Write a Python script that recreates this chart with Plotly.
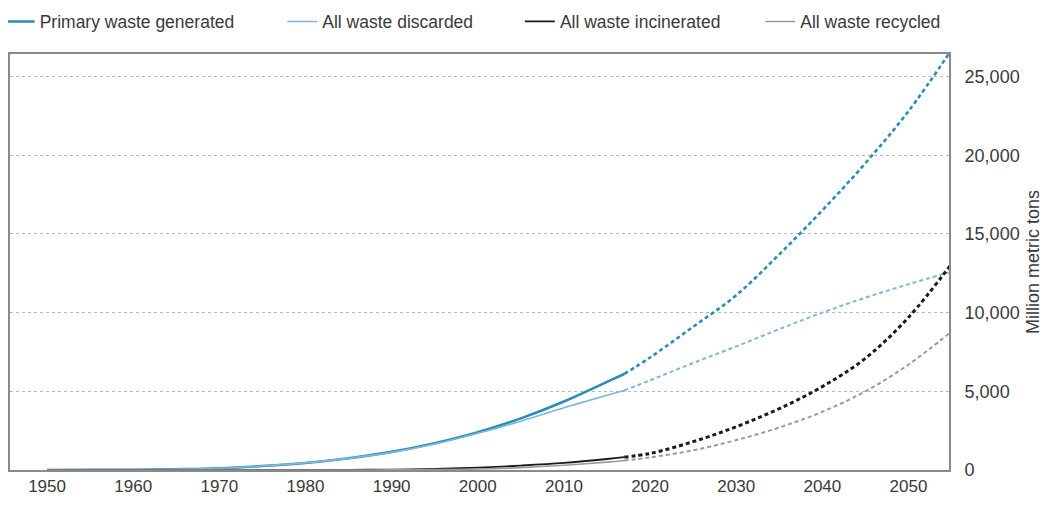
import plotly.graph_objects as go

# cumulative plastic waste, million metric tons
hist_years = [1950, 1955, 1960, 1965, 1970, 1975, 1980, 1985, 1990, 1995, 2000, 2005, 2010, 2015, 2017]
proj_years = [2017, 2020, 2025, 2030, 2035, 2040, 2045, 2050, 2055]

primary_hist = [0, 5, 20, 50, 110, 250, 450, 750, 1150, 1700, 2400, 3280, 4350, 5600, 6100]
primary_proj = [6100, 7150, 9100, 11100, 13700, 16500, 19500, 22800, 26700]

discarded_hist = [0, 5, 20, 50, 110, 250, 450, 740, 1120, 1650, 2330, 3100, 3950, 4750, 5050]
discarded_proj = [5050, 5700, 6800, 7850, 8950, 10000, 10950, 11800, 12600]

incinerated_hist = [0, 0, 0, 0, 0, 0, 2, 10, 30, 70, 150, 280, 450, 700, 820]
incinerated_proj = [820, 1050, 1800, 2750, 3900, 5300, 7100, 9700, 13100]

recycled_hist = [0, 0, 0, 0, 0, 0, 0, 2, 5, 25, 60, 150, 300, 500, 600]
recycled_proj = [600, 800, 1250, 1900, 2700, 3700, 5000, 6700, 8800]

x_ticks = [1950, 1960, 1970, 1980, 1990, 2000, 2010, 2020, 2030, 2040, 2050]
y_ticks = [0, 5000, 10000, 15000, 20000, 25000]

FONT = "Liberation Sans, Arial, sans-serif"
TEXT = "#3a3a3a"

series = [
    ("Primary waste generated", primary_hist, primary_proj, "#2a8cba", 2.6, 2.6, "legend"),
    ("All waste discarded", discarded_hist, discarded_proj, "#7db8d6", 1.6, 2.0, "legend2"),
    ("All waste incinerated", incinerated_hist, incinerated_proj, "#1b1b1b", 1.8, 3.0, "legend3"),
    ("All waste recycled", recycled_hist, recycled_proj, "#9a9a9a", 1.6, 2.0, "legend4"),
]

fig = go.Figure()
for name, hist, proj, color, w_solid, w_dash, leg in series:
    fig.add_trace(go.Scatter(
        x=hist_years, y=hist, name=name, mode="lines",
        line=dict(color=color, width=w_solid, shape="spline"),
        legend=leg,
    ))
    fig.add_trace(go.Scatter(
        x=proj_years, y=proj, name=name, mode="lines",
        line=dict(color=color, width=w_dash, dash="4px,3px", shape="spline"),
        legend=leg, showlegend=False,
    ))

leg_style = dict(orientation="h", xanchor="left", yanchor="middle", y=1.078,
                 font=dict(family=FONT, size=17.5, color=TEXT),
                 bgcolor="rgba(0,0,0,0)", itemwidth=30)

# page body has an 8px margin, so the figure is 8px smaller each way
fig.update_layout(
    width=1043, height=498,
    margin=dict(l=2, r=102, t=46, b=36, autoexpand=False),
    paper_bgcolor="white", plot_bgcolor="white",
    font=dict(family=FONT, color=TEXT),
    legend=dict(x=-0.011, **leg_style),
    legend2=dict(x=0.290, **leg_style),
    legend3=dict(x=0.543, **leg_style),
    legend4=dict(x=0.799, **leg_style),
    xaxis=dict(
        range=[1945.7, 2054.7], tickvals=x_ticks, showgrid=False,
        showline=True, linecolor="#8a8a8a", linewidth=2, mirror=True,
        zeroline=False, ticks="", tickfont=dict(size=17, color=TEXT),
    ),
    yaxis=dict(
        side="right", range=[0, 26430], tickvals=y_ticks, tickformat=",",
        showgrid=True, gridcolor="#b8b8b8", griddash="3px,3px", gridwidth=1,
        showline=True, linecolor="#8a8a8a", linewidth=2, mirror=True,
        zeroline=False, ticks="", ticklabelstandoff=10,
        tickfont=dict(size=18, color=TEXT),
        title=dict(text="Million metric tons", standoff=8,
                   font=dict(size=18, color=TEXT)),
    ),
)

fig.write_html("out.html")
